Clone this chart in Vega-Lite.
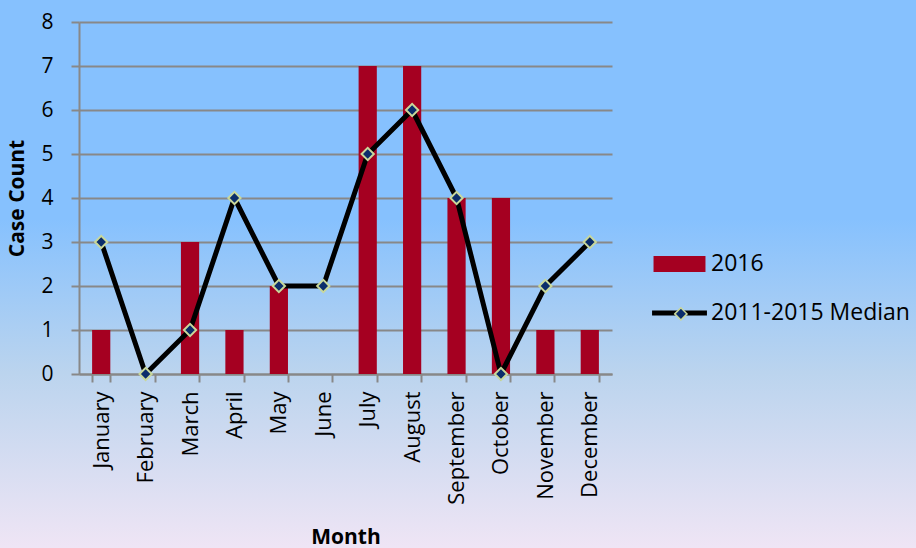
{
  "$schema": "https://vega.github.io/schema/vega-lite/v6.json",
  "width": 916,
  "height": 548,
  "autosize": "none",
  "padding": 0,
  "background": "#B5D2F3",
  "config": {
    "font": "Open Sans",
    "view": {
      "stroke": null,
      "fill": {
        "gradient": "linear",
        "x1": 0, "y1": 0, "x2": 0, "y2": 1,
        "stops": [
          {"offset": 0, "color": "#86C1FE"},
          {"offset": 0.4, "color": "#86C1FE"},
          {"offset": 0.68, "color": "#BBD4EE"},
          {"offset": 1, "color": "#EFE5F5"}
        ]
      }
    },
    "axis": {
      "domainColor": "#888888",
      "domainWidth": 2,
      "tickColor": "#888888",
      "tickWidth": 2,
      "tickSize": 8,
      "gridColor": "#888888",
      "gridWidth": 2,
      "labelColor": "#000000",
      "labelFont": "Open Sans",
      "labelFontSize": 21,
      "titleColor": "#000000",
      "titleFont": "Open Sans",
      "titleFontSize": 21,
      "titleFontWeight": "bold"
    }
  },
  "data": {
    "values": [
      {"month": "January", "y2016": 1, "median": 3},
      {"month": "February", "y2016": 0, "median": 0},
      {"month": "March", "y2016": 3, "median": 1},
      {"month": "April", "y2016": 1, "median": 4},
      {"month": "May", "y2016": 2, "median": 2},
      {"month": "June", "y2016": 0, "median": 2},
      {"month": "July", "y2016": 7, "median": 5},
      {"month": "August", "y2016": 7, "median": 6},
      {"month": "September", "y2016": 4, "median": 4},
      {"month": "October", "y2016": 4, "median": 0},
      {"month": "November", "y2016": 1, "median": 2},
      {"month": "December", "y2016": 1, "median": 3}
    ]
  },
  "encoding": {
    "x": {
      "field": "month",
      "type": "nominal",
      "sort": null,
      "scale": {"type": "band", "range": [79, 612], "paddingInner": 0.59, "paddingOuter": 0.295},
      "axis": {
        "title": "Month",
        "offset": -174,
        "labelAngle": -90,
        "labelAlign": "right",
        "labelBaseline": "middle",
        "labelPadding": 9,
        "labelFontSize": 22,
        "tickBand": "extent",
        "grid": false,
        "titleX": 345.5,
        "titleY": 163,
        "titleBaseline": "middle",
        "titleAlign": "center"
      }
    }
  },
  "layer": [
    {
      "mark": {"type": "bar", "color": "#A50021"},
      "encoding": {
        "y": {
          "field": "y2016",
          "type": "quantitative",
          "scale": {"domain": [0, 8], "range": [374, 22], "nice": false, "zero": true},
          "axis": {
            "title": "Case Count",
            "offset": -79,
            "values": [0, 1, 2, 3, 4, 5, 6, 7, 8],
            "format": "d",
            "labelPadding": 18,
            "grid": true,
            "titleAngle": -90,
            "titleX": -62,
            "titleY": 198,
            "titleBaseline": "middle",
            "titleAlign": "center"
          }
        },
        "color": {
          "datum": "2016",
          "type": "nominal",
          "scale": {"domain": ["2016", "2011-2015 Median"], "range": ["#A50021", "#000000"]},
          "legend": {
            "orient": "none",
            "legendX": 655,
            "legendY": 239.5,
            "title": null,
            "padding": 0,
            "rowPadding": 12,
            "symbolSize": 2401,
            "labelOffset": 7,
            "labelFont": "Open Sans",
            "labelFontSize": 23,
            "labelColor": "#000000",
            "labelLimit": 400,
            "encode": {
              "symbols": {
                "update": {
                  "shape": {"signal": "datum.value === '2016' ? 'M-1.06,-0.33L1.06,-0.33L1.06,0.33L-1.06,0.33Z' : 'M-1.12,-0.1L1.12,-0.1L1.12,0.1L-1.12,0.1Z'"},
                  "fill": {"signal": "datum.value === '2016' ? '#A50021' : '#000000'"},
                  "fillOpacity": {"value": 1},
                  "strokeWidth": {"value": 0},
                  "opacity": {"value": 1}
                }
              }
            }
          }
        }
      }
    },
    {
      "mark": {"type": "line", "strokeWidth": 5},
      "encoding": {
        "y": {"field": "median", "type": "quantitative"},
        "color": {"datum": "2011-2015 Median", "type": "nominal"}
      }
    },
    {
      "mark": {"type": "point", "shape": "diamond", "filled": true, "fill": "#0B2D6B", "stroke": "#C9D89B", "strokeWidth": 2, "size": 150, "opacity": 1},
      "encoding": {
        "y": {"field": "median", "type": "quantitative"},
        "shape": {
          "datum": "2011-2015 Median",
          "type": "nominal",
          "scale": {"domain": ["2011-2015 Median"], "range": ["diamond"]},
          "legend": {
            "orient": "none",
            "legendX": 673.9,
            "legendY": 306.9,
            "title": null,
            "padding": 0,
            "symbolSize": 150,
            "labelFontSize": 1,
            "labelOpacity": 0,
            "labelOffset": 0,
            "encode": {
              "symbols": {
                "update": {
                  "fill": {"value": "#0B2D6B"},
                  "stroke": {"value": "#C9D89B"},
                  "strokeWidth": {"value": 2},
                  "fillOpacity": {"value": 1},
                  "opacity": {"value": 1}
                }
              }
            }
          }
        }
      }
    }
  ]
}
